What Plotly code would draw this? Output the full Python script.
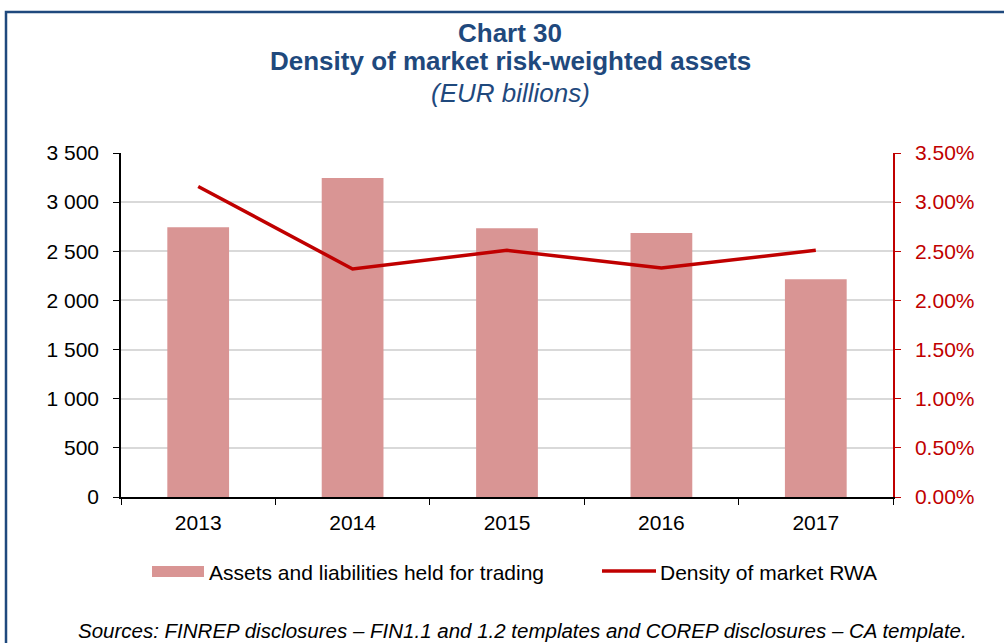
import plotly.graph_objects as go

years = ["2013", "2014", "2015", "2016", "2017"]
assets_trading = [2745, 3245, 2735, 2685, 2215]
density_rwa = [0.0316, 0.0232, 0.0251, 0.0233, 0.0251]

left_ticks = [0, 500, 1000, 1500, 2000, 2500, 3000, 3500]
right_ticks = [0, 0.005, 0.01, 0.015, 0.02, 0.025, 0.03, 0.035]

bar_name = "Assets and liabilities held for trading"
line_name = "Density of market RWA"

BLUE = "#1F497D"
RED = "#C00000"
BAR = "#D99594"
FONT = "Liberation Sans, Arial, sans-serif"

W, H = 1004, 643
ML, MR, MT, MB = 121, 111, 153, 146
PW, PH = W - ML - MR, H - MT - MB


def px(x):
    return (x - ML) / PW


def py(y):
    return (H - MB - y) / PH


fig = go.Figure()
fig.add_trace(go.Bar(x=years, y=assets_trading, name=bar_name,
                     marker=dict(color=BAR, line=dict(width=0)), width=0.4, yaxis="y"))
fig.add_trace(go.Scatter(x=years, y=density_rwa, name=line_name, mode="lines",
                         line=dict(color=RED, width=3.5), yaxis="y2"))

fig.update_layout(
    width=W, height=H,
    paper_bgcolor="white", plot_bgcolor="white",
    separators=". ",
    font=dict(family=FONT, size=21, color="black"),
    margin=dict(l=ML, r=MR, t=MT, b=MB, autoexpand=False),
    showlegend=False,
    xaxis=dict(showline=True, linecolor="black", linewidth=1.5, ticks="outside",
               tickson="boundaries", ticklen=6, tickcolor="black", showgrid=False,
               ticklabelstandoff=6, tickfont=dict(size=21, color="black")),
    yaxis=dict(range=[0, 3500], tickvals=left_ticks, tickformat=",d", showline=True,
               linecolor="black", linewidth=1.5, ticks="outside", ticklen=6, tickcolor="black",
               showgrid=True, gridcolor="#D9D9D9", gridwidth=1.5, zeroline=False,
               ticklabelstandoff=10, tickfont=dict(size=21, color="black")),
    yaxis2=dict(range=[0, 0.035], tickvals=right_ticks, tickformat=".2%", overlaying="y",
                side="right", showline=True, linecolor=RED, linewidth=1.5, ticks="outside",
                ticklen=6, tickcolor=RED, showgrid=False, zeroline=False,
                ticklabelstandoff=10, tickfont=dict(size=21, color=RED)),
)

titles = [
    ("<b>Chart 30</b>", 33),
    ("<b>Density of market risk-weighted assets</b>", 61),
    ("<i>(EUR billions)</i>", 93),
]
for txt, yy in titles:
    fig.add_annotation(text=txt, xref="paper", yref="paper", x=px(510), y=py(yy),
                       xanchor="center", yanchor="middle", showarrow=False,
                       font=dict(family=FONT, size=26, color=BLUE))

# custom legend
fig.add_shape(type="rect", xref="paper", yref="paper", x0=px(152), x1=px(204),
              y0=py(577), y1=py(566), line=dict(width=0), fillcolor=BAR)
fig.add_annotation(text=bar_name, xref="paper", yref="paper", x=px(207), y=py(572),
                   xanchor="left", yanchor="middle", showarrow=False,
                   font=dict(family=FONT, size=21, color="black"))
fig.add_shape(type="line", xref="paper", yref="paper", x0=px(602), x1=px(656),
              y0=py(571), y1=py(571), line=dict(color=RED, width=3.5))
fig.add_annotation(text=line_name, xref="paper", yref="paper", x=px(658), y=py(572),
                   xanchor="left", yanchor="middle", showarrow=False,
                   font=dict(family=FONT, size=21, color="black"))

fig.add_annotation(text="<i>Sources: FINREP disclosures \u2013 FIN1.1 and 1.2 templates and COREP disclosures \u2013 CA template.</i>",
                   xref="paper", yref="paper", x=px(76), y=py(630), xanchor="left", yanchor="middle",
                   showarrow=False, font=dict(family=FONT, size=20.5, color="black"))

# frame around chart
fig.add_shape(type="rect", xref="paper", yref="paper",
              x0=px(6), x1=px(1015), y0=py(660), y1=py(12),
              line=dict(color=BLUE, width=2.5), fillcolor="rgba(0,0,0,0)", layer="below")

fig.write_html("out.html", config={"displayModeBar": False},
               post_script="document.body.style.margin='0';document.body.style.padding='0';")
